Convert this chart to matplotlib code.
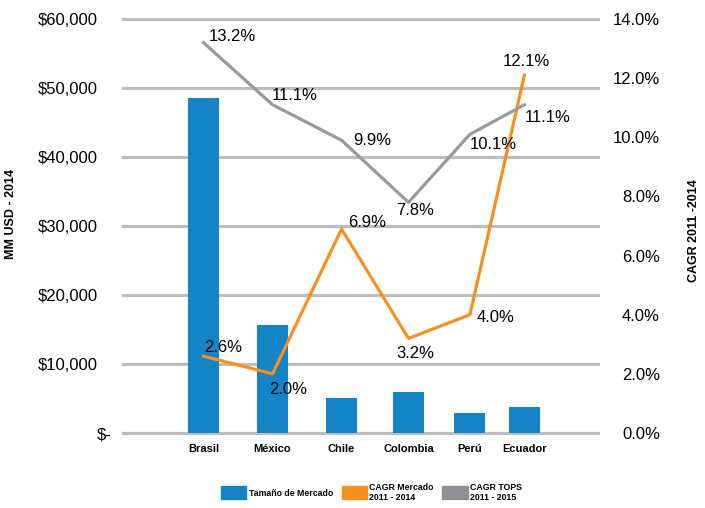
import matplotlib.pyplot as plt
from matplotlib.patches import Patch
from matplotlib.transforms import ScaledTranslation

plt.rcParams['font.family'] = ['Liberation Sans', 'DejaVu Sans']

# market data
paises = ['Brasil', 'México', 'Chile', 'Colombia', 'Perú', 'Ecuador']
tamano_mercado = [48500, 15700, 5100, 6000, 2900, 3700]       # MM USD 2014
cagr_mercado = [2.6, 2.0, 6.9, 3.2, 4.0, 12.1]                # % 2011-2014
cagr_tops = [13.2, 11.1, 9.9, 7.8, 10.1, 11.1]                # % 2011-2015

# x positions of the country groups (spacing narrows on the right)
xpos = [0, 1, 2, 2.97, 3.86, 4.65]

azul = '#1584c6'
naranja = '#f7901e'
gris = '#999a9c'

fig = plt.figure(figsize=(7.05, 5.08), dpi=100)
ax = fig.add_axes([0.1745, 0.1476, 0.6738, 0.815])

ax.bar(xpos, tamano_mercado, width=0.45, color=azul, zorder=2)
ax.set_xlim(-1.167, 5.717)
ax.set_ylim(0, 60000)
ax.set_yticks(range(0, 60001, 10000))
ax.set_yticklabels(['$-'] + ['${:,}'.format(v) for v in range(10000, 60001, 10000)])
ax.set_xticks(xpos)
ax.set_xticklabels(paises, fontsize=8, fontweight='bold')
ax.tick_params(axis='x', length=0, pad=8)
ax.tick_params(axis='y', length=0, pad=18, labelsize=12)
ax.grid(axis='y', color='#bcbec0', linewidth=2.3)
ax.set_axisbelow(True)
for gl in ax.get_ygridlines():
    gl.set_clip_on(False)
for s in ax.spines.values():
    s.set_visible(False)

# "$-" sits closer to the axis (accounting style)
lbl0 = ax.get_yticklabels()[0]
lbl0.set_transform(lbl0.get_transform() + ScaledTranslation(13 / 100, 0, fig.dpi_scale_trans))

ax.set_ylabel('MM USD - 2014', fontsize=9, fontweight='bold')
ax.yaxis.set_label_coords(-0.223, 0.53)

ax2 = ax.twinx()
ax2.plot(xpos, cagr_mercado, color=naranja, linewidth=2.3, zorder=3)
ax2.plot(xpos, cagr_tops, color=gris, linewidth=2.3, zorder=3)
ax2.set_ylim(0, 14)
ax2.set_yticks(range(0, 15, 2))
ax2.set_yticklabels(['{:.1f}%'.format(v) for v in range(0, 15, 2)])
ax2.tick_params(axis='y', length=0, pad=44.6, labelsize=12)
for t in ax2.get_yticklabels():
    t.set_horizontalalignment('right')
for s in ax2.spines.values():
    s.set_visible(False)
ax2.set_ylabel('CAGR 2011 -2014', fontsize=9, fontweight='bold')
ax2.yaxis.set_label_coords(1.189, 0.49)

# value labels, offsets in pixels from each point
off_mercado = [(1, 9), (-3, -16), (7, 6), (-12, -15), (7, -3), (-22, 14)]
off_tops = [(5, 6), (-1, 9), (12, 0), (-12, -8), (0, -10), (0, -13)]
for x, v, (dx, dy) in zip(xpos, cagr_mercado, off_mercado):
    ax2.annotate('{:.1f}%'.format(v), (x, v), xytext=(dx, dy), textcoords='offset pixels',
                 ha='left', va='center', fontsize=12, zorder=4)
for x, v, (dx, dy) in zip(xpos, cagr_tops, off_tops):
    ax2.annotate('{:.1f}%'.format(v), (x, v), xytext=(dx, dy), textcoords='offset pixels',
                 ha='left', va='center', fontsize=12, zorder=4)

handles = [Patch(color=azul), Patch(color=naranja), Patch(color='#8e9093')]
labels = ['Tamaño de Mercado', 'CAGR Mercado\n2011 - 2014', 'CAGR TOPS\n2011 - 2015']
leg = fig.legend(handles, labels, loc='center', bbox_to_anchor=(0.527, 0.031), ncol=3,
                 frameon=False, prop={'size': 6.3, 'weight': 'bold'}, handlelength=2.9,
                 handleheight=1.9, handletextpad=0.25, columnspacing=1.0)

fig.savefig('out.png', dpi=100)
